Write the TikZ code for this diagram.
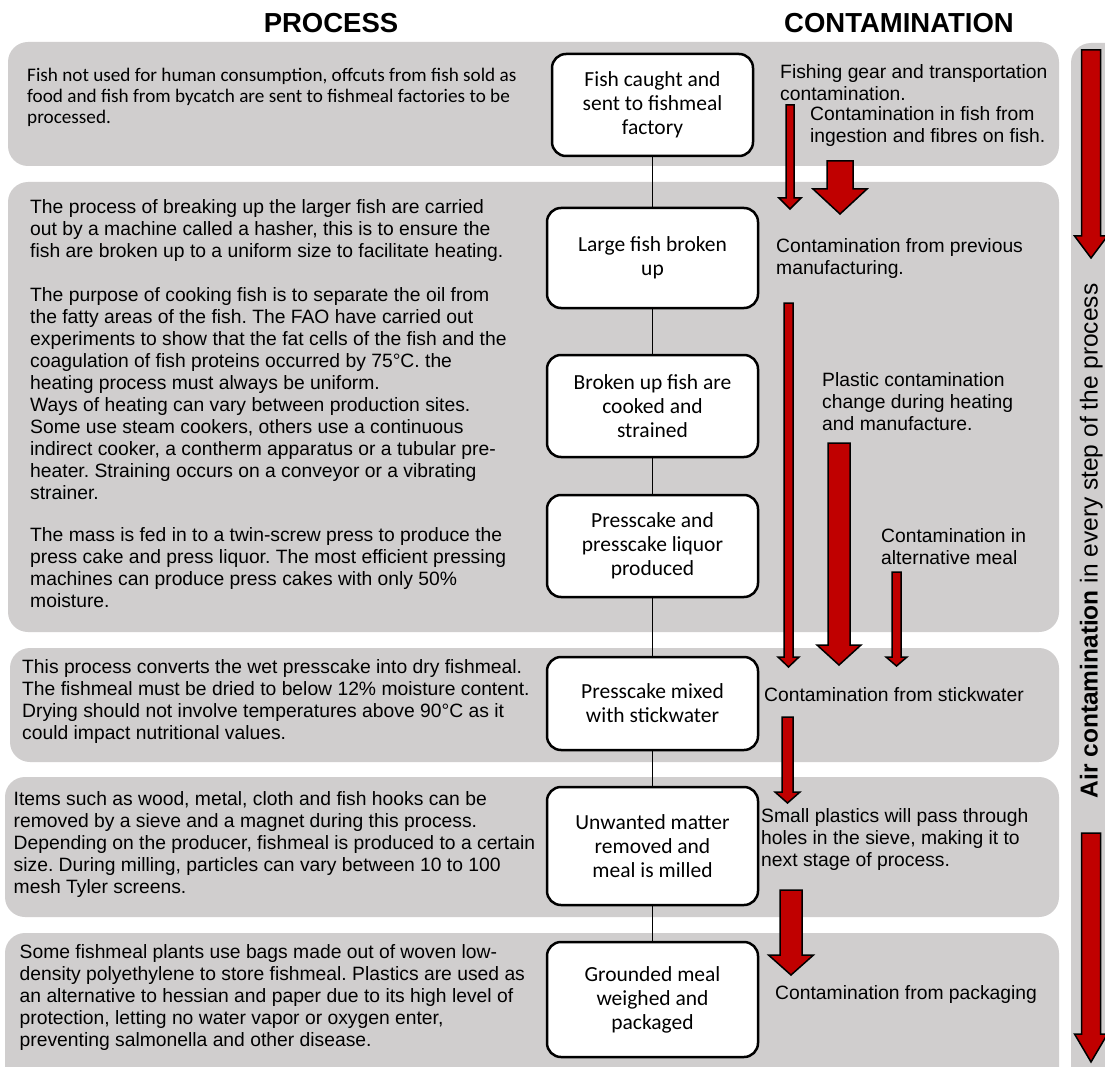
\documentclass[tikz,border=0pt]{standalone}
\usepackage{fontspec}
\setmainfont{Liberation Sans}
\newfontfamily\calib{Carlito}
\definecolor{panelgray}{HTML}{D0CECE}
\definecolor{arrowred}{HTML}{C00000}
\frenchspacing
% cx, top, tip, shaft width, head width, head length
\newcommand\redarrow[6]{%
  \filldraw[redarr] ({#1-#4/2},#2) -- ({#1+#4/2},#2) -- ({#1+#4/2},{#3-#6}) -- ({#1+#5/2},{#3-#6}) -- (#1,#3) -- ({#1-#5/2},{#3-#6}) -- ({#1-#4/2},{#3-#6}) -- cycle;}
\newcommand\txtlines[1]{\begin{tabular}[t]{@{}l@{}}#1\end{tabular}}
\begin{document}
\frenchspacing
\begin{tikzpicture}[x=1pt,y=-1pt,
  panel/.style={fill=panelgray, rounded corners=20pt},
  procbox/.style={draw=black, line width=2.5pt, fill=white, rounded corners=14pt, minimum width=211pt, align=center, inner sep=0pt, font=\calib\fontsize{21.5}{24}\selectfont},
  conn/.style={draw=black, line width=1.5pt},
  redarr/.style={fill=arrowred, draw=black, line width=1.5pt, line join=miter},
  txt/.style={anchor=base west, inner sep=0pt, font=\fontsize{19.3}{22}\selectfont},
  ctxt/.style={anchor=base west, inner sep=0pt, font=\calib\fontsize{19.2}{21}\selectfont},
  header/.style={inner sep=0pt, font=\bfseries\fontsize{27.5}{30}\selectfont}
]
\useasboundingbox (0,0) rectangle (1105,1067);
\fill[white] (0,0) rectangle (1105,1067);

% panels
\fill[panel] (8,42) rectangle (1059,166);
\fill[panel] (8,182) rectangle (1059,632);
\fill[panel] (10,648) rectangle (1059,762);
\fill[panel] (5,777) rectangle (1059,917);
\fill[panel] (5,933) rectangle (1059,1100);
\fill[panel] (1071,43) rectangle (1140,1100);

% headers
\node[header] (hproc) at (331,23) {PROCESS};
\node[header] (hcont) at (899,23) {CONTAMINATION};

% process boxes
\node[procbox, minimum width=201pt, minimum height=102pt] (b1) at (652.5,105) {Fish caught and\\sent to fishmeal\\factory};
\node[procbox, minimum height=100pt] (b2) at (652.5,258) {Large fish broken\\up};
\node[procbox, minimum height=102pt] (b3) at (652.5,406) {Broken up fish are\\cooked and\\strained};
\node[procbox, minimum height=102pt] (b4) at (652.5,546) {Presscake and\\presscake liquor\\produced};
\node[procbox, minimum height=93pt] (b5) at (652.5,703.5) {Presscake mixed\\with stickwater};
\node[procbox, minimum height=118pt] (b6) at (652.5,846) {Unwanted matter\\removed and\\meal is milled};
\node[procbox, minimum height=115pt] (b7) at (652.5,999.5) {Grounded meal\\weighed and\\packaged};

\draw[conn] (b1) -- (b2);
\draw[conn] (b2) -- (b3);
\draw[conn] (b3) -- (b4);
\draw[conn] (b4) -- (b5);
\draw[conn] (b5) -- (b6);
\draw[conn] (b6) -- (b7);

% left texts
\node[ctxt] (t1) at (27,82) {\txtlines{Fish not used for human consumption, offcuts from fish sold as\\food and fish from bycatch are sent to fishmeal factories to be\\processed.}};
\node[txt] (t2) at (30,214) {\txtlines{The process of breaking up the larger fish are carried\\out by a machine called a hasher, this is to ensure the\\fish are broken up to a uniform size to facilitate heating.\\[22pt]
The purpose of cooking fish is to separate the oil from\\the fatty areas of the fish. The FAO have carried out\\experiments to show that the fat cells of the fish and the\\coagulation of fish proteins occurred by 75°C. the\\heating process must always be uniform.\\Ways of heating can vary between production sites.\\Some use steam cookers, others use a continuous\\indirect cooker, a contherm apparatus or a tubular pre-\\heater. Straining occurs on a conveyor or a vibrating\\strainer.\\[20pt]
The mass is fed in to a twin-screw press to produce the\\press cake and press liquor. The most efficient pressing\\machines can produce press cakes with only 50\%\\moisture.}};
\node[txt] (t3) at (22,673) {\txtlines{This process converts the wet presscake into dry fishmeal.\\The fishmeal must be dried to below 12\% moisture content.\\Drying should not involve temperatures above 90°C as it\\could impact nutritional values.}};
\node[txt] (t4) at (13.5,805) {\txtlines{Items such as wood, metal, cloth and fish hooks can be\\removed by a sieve and a magnet during this process.\\Depending on the producer, fishmeal is produced to a certain\\size. During milling, particles can vary between 10 to 100\\mesh Tyler screens.}};
\node[txt] (t5) at (19.5,958) {\txtlines{Some fishmeal plants use bags made out of woven low-\\density polyethylene to store fishmeal. Plastics are used as\\an alternative to hessian and paper due to its high level of\\protection, letting no water vapor or oxygen enter,\\preventing salmonella and other disease.}};

% contamination texts
\node[txt] (c1) at (780,79) {\txtlines{Fishing gear and transportation\\contamination.}};
\node[txt] (c2) at (810,121) {\txtlines{Contamination in fish from\\ingestion and fibres on fish.}};
\node[txt] (c3) at (776,253) {\txtlines{Contamination from previous\\manufacturing.}};
\node[txt] (c4) at (822,386) {\txtlines{Plastic contamination\\change during heating\\and manufacture.}};
\node[txt] (c5) at (881,542) {\txtlines{Contamination in\\alternative meal}};
\node[txt] (c6) at (764,701) {Contamination from stickwater};
\node[txt] (c7) at (761,822) {\txtlines{Small plastics will pass through\\holes in the sieve, making it to\\next stage of process.}};
\node[txt] (c8) at (775,999) {Contamination from packaging};

% red arrows
\redarrow{790}{105}{209}{8}{22}{11}
\redarrow{840}{161}{214}{26}{54}{25}
\redarrow{788.5}{303}{667}{9}{21}{10}
\redarrow{839}{443}{665}{22}{44}{20}
\redarrow{896.5}{572}{666}{9}{21}{9}
\redarrow{787.5}{717}{803}{11}{25}{11}
\redarrow{791}{890}{975}{22}{45}{20}
\redarrow{1091}{50}{258}{19}{33}{22}
\redarrow{1091}{833}{1062}{19}{33}{28}

% air contamination
\node[rotate=90, anchor=base, inner sep=0pt, font=\fontsize{24.5}{28}\selectfont] (air) at (1097.5,541) {\textbf{Air contamination} in every step of the process};
\end{tikzpicture}
\end{document}
